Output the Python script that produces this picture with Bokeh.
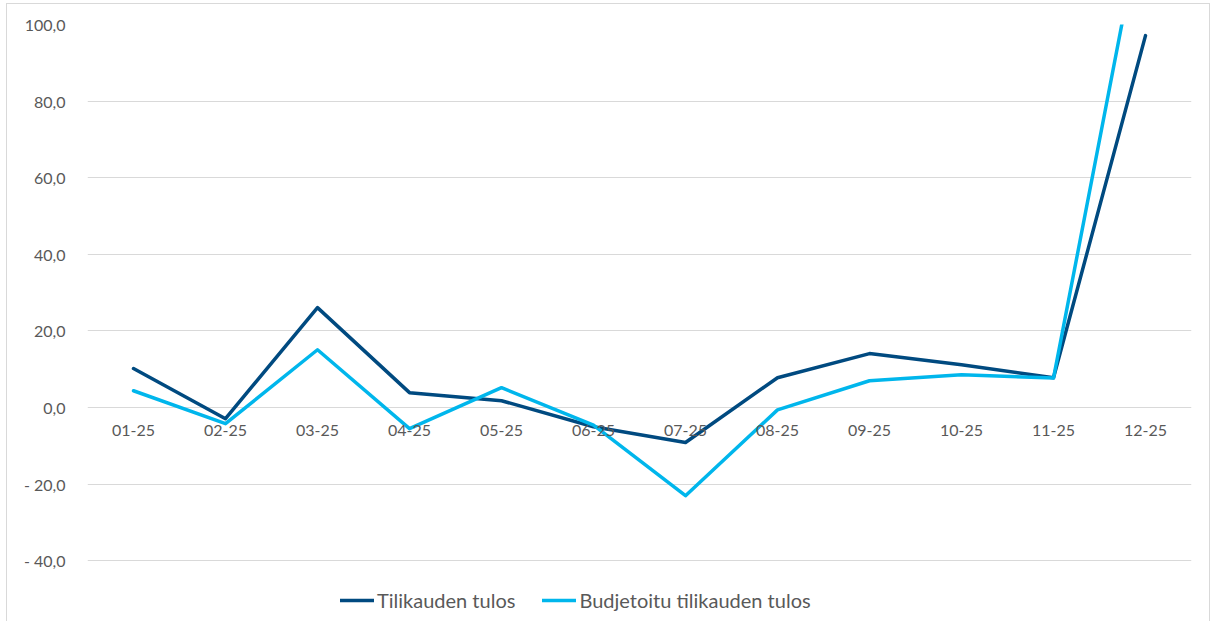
from bokeh.plotting import figure
from bokeh.models import FactorRange, Range1d, FixedTicker, Legend, LegendItem, CustomJSTickFormatter
from bokeh.core.properties import value
from bokeh.embed import file_html
from bokeh.resources import INLINE

months = ["01-25", "02-25", "03-25", "04-25", "05-25", "06-25",
          "07-25", "08-25", "09-25", "10-25", "11-25", "12-25"]
actual = [10.2, -2.9, 26.1, 3.9, 1.8, -5.0, -9.1, 7.8, 14.1, 11.2, 7.8, 97.1]
budget = [4.4, -4.2, 15.1, -5.5, 5.2, -4.6, -23.0, -0.6, 7.0, 8.6, 7.7, 132.0]
y_ticks = [-40, -20, 0, 20, 40, 60, 80, 100]

FONT = "Lato"
TXT = "#595959"
GRID = "#d9d9d9"

p = figure(width=1204, height=618, x_range=FactorRange(*months),
           y_range=Range1d(-56.1, 100), output_backend="svg", toolbar_location=None,
           min_border_left=80, min_border_right=20, min_border_top=20, min_border_bottom=0,
           styles={"border": "1px solid #d9d9d9", "border-bottom": "none",
                   "margin-left": "6px", "margin-top": "3px"})
p.outline_line_color = None
p.background_fill_color = "white"
p.border_fill_color = "white"

r1 = p.line(months, actual, line_color="#004a80", line_width=3.5, line_join="round", line_cap="round")
r2 = p.line(months, budget, line_color="#00b6ec", line_width=3.5, line_join="round", line_cap="round")

# category labels sitting under the zero line
p.text(x=months, y=[0] * len(months), text=months, text_align="center",
       text_baseline="middle", y_offset=23, text_font=value(FONT),
       text_font_size="16px", text_color=TXT)

p.xaxis.visible = False
p.xgrid.grid_line_color = None
p.ygrid.grid_line_color = GRID
p.ygrid.grid_line_width = 1.2
p.yaxis.ticker = FixedTicker(ticks=y_ticks)
p.yaxis.formatter = CustomJSTickFormatter(code="""
    const s = Math.abs(tick).toFixed(1).replace('.', ',');
    return tick < 0 ? '- ' + s : s;
""")
p.yaxis.axis_line_color = None
p.yaxis.major_tick_line_color = None
p.yaxis.minor_tick_line_color = None
p.yaxis.major_label_standoff = 16
p.yaxis.major_label_text_font = FONT
p.yaxis.major_label_text_font_size = "16px"
p.yaxis.major_label_text_color = TXT

legend = Legend(items=[LegendItem(label="Tilikauden tulos", renderers=[r1]),
                       LegendItem(label="Budjetoitu tilikauden tulos", renderers=[r2])],
                orientation="horizontal", location=(253, 10), padding=0, margin=0,
                spacing=27, glyph_width=34, glyph_height=20, label_height=20,
                label_standoff=3, border_line_color=None, background_fill_alpha=0,
                label_text_font=FONT, label_text_font_size="20px", label_text_color=TXT)
p.add_layout(legend)

open("out.html", "w").write(file_html(p, INLINE))
